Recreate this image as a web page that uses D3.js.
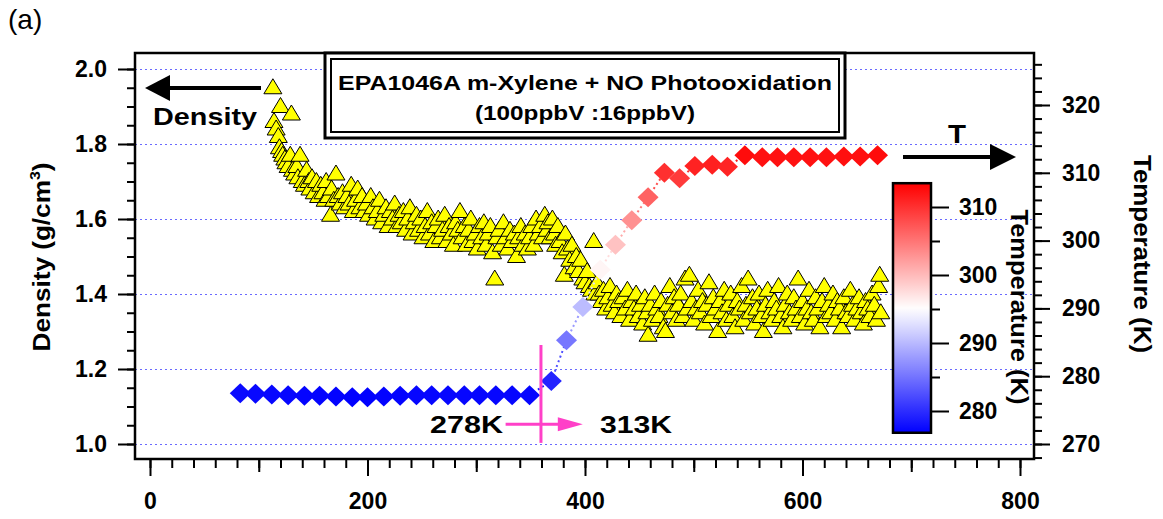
<!DOCTYPE html>
<html>
<head>
<meta charset="utf-8">
<script src="https://cdn.jsdelivr.net/npm/d3@7"></script>
<style>
body { margin: 0; background: #fff; }
text { font-family: "Liberation Sans", Arial, sans-serif; }
</style>
</head>
<body>
<svg id="chart" width="1163" height="519"></svg>
<script>
// ---- data ----
// temperature (diamonds, right axis)
var tempTime = [83,97,112,127,142,156,171,186,200,215,230,245,259,274,289,303,318,333,349,
  369,383,398,414,428,443,458,473,487,501,517,531,547,563,577,592,607,622,638,653,669];
var tempK = [277.5,277.4,277.3,277.2,277.1,277.1,277.0,276.9,276.9,277.0,277.1,277.2,277.2,277.2,277.2,277.2,277.2,277.2,277.2,
  279.3,285.3,290.2,295.7,299.4,303.0,306.4,310.0,309.2,311.0,311.2,310.9,312.6,312.3,312.3,312.3,312.3,312.3,312.4,312.4,312.6];

// density (triangles, left axis)
var densTime = [113,114,116,118,119,120,121,122,124,125,127,129,130,131,133,135,136,138,140,
  142,144,146,147,149,151,153,155,157,159,161,162,164,166,167,169,171,173,175,177,179,181,183,185,187,189,191,193,195,197,199,
  201,203,205,207,209,211,213,215,217,219,221,223,225,227,229,231,233,235,237,239,241,243,245,247,249,251,253,255,257,259,
  261,263,265,267,269,271,273,275,277,279,281,283,285,287,289,291,293,295,297,299,301,303,305,307,309,311,313,315,317,319,
  321,323,325,327,329,331,333,335,337,339,341,343,345,347,349,351,353,355,357,359,361,
  363,365,366,368,370,372,373,375,377,379,381,382,384,386,388,390,392,394,396,398,400,402,404,406,408,409,411,
  413,415,417,419,421,423,425,427,429,431,433,435,437,439,441,443,445,447,449,451,453,455,457,458,460,462,464,466,468,470,
  472,474,476,478,480,482,484,486,488,490,492,494,496,498,500,502,504,506,508,510,512,514,516,518,520,522,524,526,528,530,
  532,534,536,538,540,542,544,546,548,550,552,554,556,558,560,562,564,566,568,570,572,574,576,578,580,582,584,586,588,590,
  592,594,596,598,600,602,604,606,608,610,612,614,616,618,620,622,624,626,628,630,632,634,636,638,640,642,644,646,648,650,
  652,654,656,658,660,662,664,666,668,670,671,672];
var density = [1.95,1.86,1.84,1.82,1.79,1.90,1.78,1.77,1.76,1.75,1.74,1.77,1.88,1.73,1.72,1.74,1.71,1.77,1.70,
  1.69,1.73,1.70,1.68,1.71,1.67,1.70,1.66,1.69,1.67,1.65,1.70,1.66,1.61,1.68,1.65,1.72,1.66,1.64,1.67,1.63,1.66,1.64,1.69,1.62,1.65,1.68,1.63,1.66,1.62,1.64,
  1.61,1.66,1.63,1.60,1.62,1.65,1.59,1.61,1.63,1.58,1.62,1.60,1.64,1.58,1.61,1.59,1.62,1.57,1.60,1.63,1.56,1.59,1.61,1.57,1.60,1.55,1.58,1.62,1.56,1.59,
  1.54,1.58,1.60,1.55,1.57,1.61,1.54,1.58,1.56,1.53,1.59,1.57,1.62,1.55,1.58,1.53,1.57,1.60,1.54,1.56,1.52,1.58,1.55,1.59,1.53,1.56,1.58,1.51,1.44,1.55,
  1.57,1.53,1.59,1.55,1.52,1.57,1.54,1.56,1.50,1.55,1.58,1.53,1.56,1.52,1.55,1.58,1.53,1.60,1.56,1.58,1.55,
  1.61,1.57,1.59,1.55,1.60,1.56,1.53,1.58,1.54,1.51,1.45,1.56,1.52,1.49,1.53,1.47,1.50,1.46,1.49,1.44,1.43,1.46,1.42,1.41,1.54,1.40,1.43,
  1.40,1.38,1.41,1.36,1.39,1.42,1.37,1.35,1.40,1.38,1.34,1.39,1.36,1.41,1.33,1.38,1.36,1.40,1.34,1.37,1.32,1.39,1.35,1.29,1.37,1.33,1.40,1.36,1.34,1.38,
  1.31,1.30,1.37,1.42,1.35,1.39,1.33,1.37,1.40,1.34,1.44,1.36,1.45,1.38,1.33,1.36,1.41,1.35,1.38,1.32,1.37,1.43,1.34,1.39,1.36,1.30,1.38,1.35,1.41,1.33,
  1.37,1.40,1.34,1.31,1.38,1.36,1.42,1.33,1.37,1.44,1.35,1.39,1.32,1.36,1.40,1.34,1.30,1.37,1.41,1.35,1.33,1.38,1.36,1.42,1.34,1.31,1.37,1.40,1.35,1.33,
  1.39,1.36,1.44,1.34,1.38,1.32,1.36,1.41,1.35,1.33,1.39,1.36,1.31,1.38,1.42,1.34,1.37,1.35,1.40,1.33,1.38,1.36,1.31,1.39,1.35,1.34,1.41,1.37,1.33,1.36,
  1.39,1.35,1.32,1.38,1.36,1.34,1.40,1.37,1.33,1.42,1.45,1.35];

// ticks
var timeMajor = [0, 200, 400, 600, 800];
var timeMid = [100, 300, 500, 700];
var densTicks = [1.0, 1.2, 1.4, 1.6, 1.8, 2.0];
var tempTicks = [270, 280, 290, 300, 310, 320];
var barTicks = [280, 290, 300, 310];
var barMinor = [285, 295, 305];

// ---- layout ----
var svg = d3.select("#chart");
var plot = {left: 135, right: 1034, top: 53, bottom: 459};

var x = d3.scaleLinear().domain([0, 800]).range([150, 1020]);
var yD = d3.scaleLinear().domain([1.0, 2.0]).range([444, 69]);
var yT = d3.scaleLinear().domain([270, 320]).range([444, 105]);
var yBar = d3.scaleLinear().domain([280, 310]).range([411, 207]);
var barRange = [276.8, 313.5];
var color = d3.scaleLinear().domain([barRange[0], 295, barRange[1]])
  .range(["#0000ff", "#ffffff", "#ff0000"]);

// stretched bold label, like the original's wide bitmap font
function label(sel, txt, len, size) {
  return sel.attr("font-size", size).attr("font-weight", "bold")
    .attr("textLength", len).attr("lengthAdjust", "spacingAndGlyphs").text(txt);
}

// gridlines
svg.append("g").selectAll("line").data(densTicks).join("line")
  .attr("x1", plot.left).attr("x2", plot.right)
  .attr("y1", d => Math.round(yD(d)) + 0.5).attr("y2", d => Math.round(yD(d)) + 0.5)
  .attr("stroke", "#6a6aff").attr("stroke-width", 1)
  .attr("stroke-dasharray", "2,3").attr("shape-rendering", "crispEdges");

// density triangles
var tri = density.map((d, i) => ({t: densTime[i], d: d}));
svg.append("g").selectAll("path").data(tri).join("path")
  .attr("d", "M0,-9L9,6L-9,6Z")
  .attr("transform", d => "translate(" + x(d.t) + "," + yD(d.d) + ")")
  .attr("fill", "#ffff00").attr("stroke", "#000").attr("stroke-width", 1);

// temperature: dotted connectors + diamonds
var temp = tempK.map((k, i) => ({t: tempTime[i], k: k}));
svg.append("g").selectAll("line").data(temp.slice(1)).join("line")
  .attr("x1", (d, i) => x(temp[i].t)).attr("y1", (d, i) => yT(temp[i].k))
  .attr("x2", d => x(d.t)).attr("y2", d => yT(d.k))
  .attr("stroke", (d, i) => color((d.k + temp[i].k) / 2))
  .attr("stroke-width", 2).attr("stroke-dasharray", "2,3");

svg.append("g").selectAll("path").data(temp).join("path")
  .attr("d", "M0,-10L10.5,0L0,10L-10.5,0Z")
  .attr("transform", d => "translate(" + x(d.t) + "," + yT(d.k) + ")")
  .attr("fill", d => color(d.k));

// axes
function styleAxis(g) {
  g.select(".domain").remove();
  g.selectAll(".tick line").attr("stroke", "#000").attr("stroke-width", 2);
  g.attr("font-family", "'Liberation Sans', Arial, sans-serif")
    .attr("font-size", 23).attr("font-weight", "bold");
  g.selectAll("text").attr("fill", "#000");
}

// left
svg.append("g").attr("transform", "translate(" + plot.left + ",0)")
  .call(d3.axisLeft(yD).tickValues(yD.ticks(20)).tickSize(8).tickFormat(""))
  .call(styleAxis);
svg.append("g").attr("transform", "translate(" + plot.left + ",0)")
  .call(d3.axisLeft(yD).tickValues(densTicks).tickSize(17).tickPadding(11).tickFormat(d3.format(".1f")))
  .call(styleAxis);

// bottom
svg.append("g").attr("transform", "translate(0," + plot.bottom + ")")
  .call(d3.axisBottom(x).tickValues(d3.range(0, 801, 20)).tickSize(9).tickFormat(""))
  .call(styleAxis);
svg.append("g").attr("transform", "translate(0," + plot.bottom + ")")
  .call(d3.axisBottom(x).tickValues(timeMid).tickSize(13).tickFormat(""))
  .call(styleAxis);
svg.append("g").attr("transform", "translate(0," + plot.bottom + ")")
  .call(d3.axisBottom(x).tickValues(timeMajor).tickSize(17).tickPadding(17))
  .call(styleAxis);

// right
svg.append("g").attr("transform", "translate(" + plot.right + ",0)")
  .call(d3.axisRight(yT).tickValues(d3.range(268, 328, 2)).tickSize(8).tickFormat(""))
  .call(styleAxis);
svg.append("g").attr("transform", "translate(" + plot.right + ",0)")
  .call(d3.axisRight(yT).tickValues(tempTicks).tickSize(16).tickPadding(12))
  .call(styleAxis);

// frame
svg.append("rect")
  .attr("x", plot.left).attr("y", plot.top)
  .attr("width", plot.right - plot.left).attr("height", plot.bottom - plot.top)
  .attr("fill", "none").attr("stroke", "#000").attr("stroke-width", 2.5);

// title box
svg.append("rect").attr("x", 325).attr("y", 53).attr("width", 520).attr("height", 85)
  .attr("fill", "#fff").attr("stroke", "#000").attr("stroke-width", 3);
svg.append("rect").attr("x", 331).attr("y", 59).attr("width", 508).attr("height", 73)
  .attr("fill", "none").attr("stroke", "#000").attr("stroke-width", 2);
svg.append("text").attr("x", 585).attr("y", 90).attr("text-anchor", "middle")
  .call(label, "EPA1046A m-Xylene + NO Photooxidation", 494, 19.5);
svg.append("text").attr("x", 585).attr("y", 120).attr("text-anchor", "middle")
  .call(label, "(100ppbV :16ppbV)", 220, 19.5);

// Density arrow
svg.append("line").attr("x1", 168).attr("x2", 261).attr("y1", 88).attr("y2", 88)
  .attr("stroke", "#000").attr("stroke-width", 4);
svg.append("path").attr("d", "M145,88L170,75L170,101Z").attr("fill", "#000");
svg.append("text").attr("x", 153).attr("y", 125).call(label, "Density", 104, 24);

// T arrow
svg.append("line").attr("x1", 903).attr("x2", 992).attr("y1", 157).attr("y2", 157)
  .attr("stroke", "#000").attr("stroke-width", 4);
svg.append("path").attr("d", "M1016,157L990,144L990,170Z").attr("fill", "#000");
svg.append("text").attr("x", 948).attr("y", 143).call(label, "T", 18, 25);

// 278K -> 313K marker
var pink = "#ff40c8";
svg.append("line").attr("x1", x(359.5)).attr("x2", x(359.5))
  .attr("y1", yD(1.264)).attr("y2", yD(1.003))
  .attr("stroke", pink).attr("stroke-width", 3);
svg.append("line").attr("x1", x(327)).attr("x2", x(378))
  .attr("y1", yD(1.053)).attr("y2", yD(1.053))
  .attr("stroke", pink).attr("stroke-width", 3);
svg.append("path")
  .attr("d", "M" + x(398) + "," + yD(1.053) + "L" + (x(398) - 25) + "," + (yD(1.053) - 7) +
    "L" + (x(398) - 25) + "," + (yD(1.053) + 7) + "Z")
  .attr("fill", pink);
svg.append("text").attr("x", 430).attr("y", 433).call(label, "278K", 73, 24);
svg.append("text").attr("x", 600).attr("y", 433).call(label, "313K", 72, 24);

// colour bar
var defs = svg.append("defs");
var grad = defs.append("linearGradient").attr("id", "tgrad")
  .attr("x1", 0).attr("y1", 1).attr("x2", 0).attr("y2", 0);
grad.selectAll("stop").data(d3.range(0, 1.001, 0.05)).join("stop")
  .attr("offset", d => d)
  .attr("stop-color", d => color(barRange[0] + d * (barRange[1] - barRange[0])));
svg.append("rect")
  .attr("x", 893).attr("y", yBar(barRange[1]))
  .attr("width", 38).attr("height", yBar(barRange[0]) - yBar(barRange[1]))
  .attr("fill", "url(#tgrad)").attr("stroke", "#000").attr("stroke-width", 2.5);
svg.append("g").attr("transform", "translate(931,0)")
  .call(d3.axisRight(yBar).tickValues(barMinor).tickSize(9).tickFormat(""))
  .call(styleAxis);
svg.append("g").attr("transform", "translate(931,0)")
  .call(d3.axisRight(yBar).tickValues(barTicks).tickSize(18).tickPadding(10))
  .call(styleAxis);

// axis titles
svg.append("text")
  .attr("transform", "translate(50,257) rotate(-90)")
  .attr("text-anchor", "middle").attr("font-size", 23).attr("font-weight", "bold")
  .attr("textLength", 189).attr("lengthAdjust", "spacingAndGlyphs")
  .call(t => {
    t.append("tspan").text("Density (g/cm");
    t.append("tspan").attr("font-size", 14).attr("dy", -10).text("3");
    t.append("tspan").attr("dy", 10).text(")");
  });
svg.append("text")
  .attr("transform", "translate(1134,254) rotate(90)")
  .attr("text-anchor", "middle").call(label, "Temperature (K)", 198, 23);
svg.append("text")
  .attr("transform", "translate(1011,307) rotate(90)")
  .attr("text-anchor", "middle").call(label, "Temperature (K)", 195, 23);

// panel label
svg.append("text").attr("x", 8).attr("y", 29)
  .attr("font-family", "'Liberation Serif', 'Times New Roman', serif")
  .attr("font-size", 28).text("(a)");
</script>
</body>
</html>
